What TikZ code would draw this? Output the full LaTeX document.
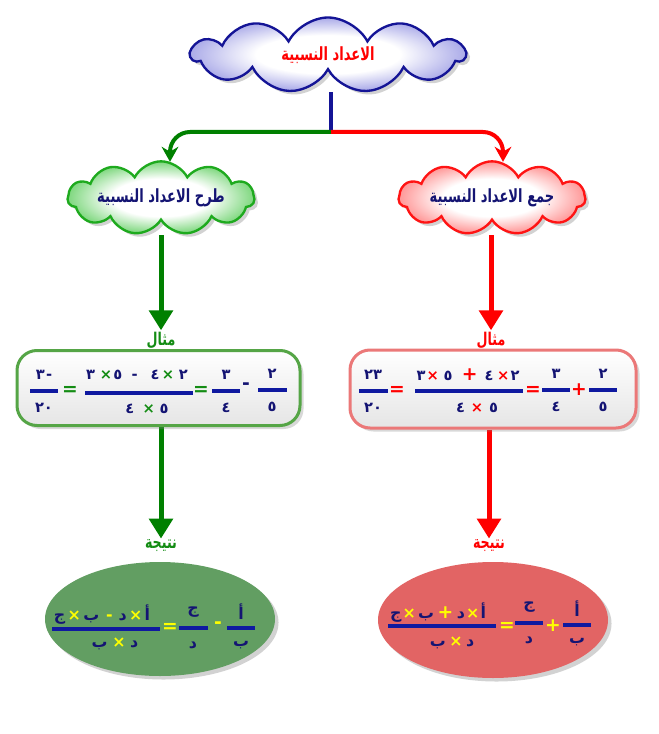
\documentclass[tikz,border=0pt]{standalone}
\usepackage{fontspec}
\newfontfamily\arabicfont[Script=Arabic,FakeStretch=0.72]{DejaVu Sans}
\newfontfamily\digitfont[Script=Arabic]{DejaVu Sans}
\TeXXeTstate=1
\usepackage{tikz}
\usetikzlibrary{shapes.symbols,shapes.geometric,arrows.meta,positioning,shadows,backgrounds}
\usepackage{xcolor}
\definecolor{mynavy}{RGB}{20,20,115}
\definecolor{mybar}{RGB}{15,25,160}
\definecolor{mygreen}{RGB}{20,140,20}
\definecolor{mylinkgreen}{RGB}{0,128,0}
\definecolor{myboxgreen}{RGB}{85,165,70}
\definecolor{myred}{RGB}{255,0,0}
\definecolor{myboxred}{RGB}{235,120,120}
\definecolor{myellgreen}{RGB}{98,158,98}
\definecolor{myellred}{RGB}{226,100,100}
\definecolor{myyellow}{RGB}{255,255,0}
\definecolor{mycloudblue}{RGB}{20,20,150}
\definecolor{mycloudbluepale}{RGB}{170,170,232}
\definecolor{mycloudgreen}{RGB}{30,170,30}
\definecolor{mycloudgreenpale}{RGB}{125,215,125}
\definecolor{mycloudred}{RGB}{255,20,20}
\definecolor{mycloudredpale}{RGB}{255,150,150}
\pgfdeclareradialshading{bluecloud}{\pgfpoint{0bp}{0bp}}{color(0bp)=(white);color(13bp)=(white);color(25bp)=(mycloudbluepale);color(50bp)=(mycloudbluepale)}
\pgfdeclareradialshading{greencloud}{\pgfpoint{0bp}{0bp}}{color(0bp)=(white);color(13bp)=(white);color(25bp)=(mycloudgreenpale);color(50bp)=(mycloudgreenpale)}
\pgfdeclareradialshading{redcloud}{\pgfpoint{0bp}{0bp}}{color(0bp)=(white);color(13bp)=(white);color(25bp)=(mycloudredpale);color(50bp)=(mycloudredpale)}
\newcommand{\gx}{\textcolor{mygreen}{×}}
\newcommand{\rx}{\textcolor{myred}{×}}
\newcommand{\yx}{\textcolor{myyellow}{×}}
\newcommand{\letterfont}{\fontsize{13.5}{15}\selectfont}
% one fraction: name, x, y of the bar, bar length (px), numerator, denominator
\newcommand{\fracnode}[6]{%
  \node[fbar,minimum width=#4*0.03cm] (#1) at (#2,#3) {};
  \node[dig] (#1num) at (#2,#3-16) {#5};
  \node[dig] (#1den) at (#2,#3+17) {#6};
}
\tikzset{
  cloudbox/.style={cloud,cloud puffs=11,cloud puff arc=125,cloud ignores aspect,shade,
    line width=2pt,inner sep=2pt,font=\arabicfont\bfseries\fontsize{15.5}{17}\selectfont,
    drop shadow={shadow xshift=3pt,shadow yshift=-3pt,opacity=0.35}},
  rootcloud/.style={cloudbox,draw=mycloudblue,shading=bluecloud,
    minimum width=8.2cm,minimum height=2.25cm,text=myred},
  subcloud/.style={cloudbox,draw=mycloudgreen,shading=greencloud,
    minimum width=5.6cm,minimum height=2.2cm,text=mynavy},
  addcloud/.style={cloudbox,draw=mycloudred,shading=redcloud,
    minimum width=5.6cm,minimum height=2.2cm,text=mynavy},
  rootline/.style={draw=mycloudblue,line width=0.12cm,shorten <=0.62cm},
  glink/.style={draw=mylinkgreen,line width=0.12cm,rounded corners=0.6cm,
    -{Stealth[length=0.45cm,width=0.5cm]}},
  rlink/.style={draw=myred,line width=0.12cm,rounded corners=0.6cm,
    -{Stealth[length=0.45cm,width=0.5cm]}},
  gdown/.style={draw=mylinkgreen,line width=0.15cm,-{Triangle[length=0.6cm,width=0.7cm]}},
  rdown/.style={draw=myred,line width=0.15cm,-{Triangle[length=0.6cm,width=0.7cm]}},
  glabel/.style={font=\arabicfont\bfseries\fontsize{15}{17}\selectfont,text=mygreen,inner sep=1pt},
  rlabel/.style={font=\arabicfont\bfseries\fontsize{15}{17}\selectfont,text=myred,inner sep=1pt},
  exbox/.style={rectangle,rounded corners=0.6cm,line width=0.09cm,top color=white,bottom color=gray!20,
    drop shadow={shadow xshift=3pt,shadow yshift=-3pt,opacity=0.3}},
  gbox/.style={exbox,draw=myboxgreen,minimum width=283*0.03cm,minimum height=75*0.03cm},
  rbox/.style={exbox,draw=myboxred,minimum width=286*0.03cm,minimum height=78*0.03cm},
  resell/.style={ellipse,inner sep=0pt,drop shadow={shadow xshift=3pt,shadow yshift=-3pt,opacity=0.35}},
  gell/.style={resell,fill=myellgreen,minimum width=230*0.03cm,minimum height=114*0.03cm},
  rell/.style={resell,fill=myellred,minimum width=230*0.03cm,minimum height=116*0.03cm},
  fbar/.style={rectangle,fill=mybar,inner sep=0pt,minimum height=0.13cm},
  dig/.style={font=\digitfont\bfseries\fontsize{12.5}{14}\selectfont,text=mynavy,inner sep=0pt},
  letter/.style={dig,font=\digitfont\bfseries\letterfont},
  opsign/.style={font=\digitfont\bfseries\fontsize{16}{16}\selectfont,inner sep=0pt},
}

\begin{document}
\begin{tikzpicture}[x=0.03cm,y=-0.03cm]
  \begin{scope}[on background layer]
    \fill[white] (0,0) rectangle (658,734);
  \end{scope}
  \useasboundingbox (0,0) rectangle (658,734);

  % title and the two branches
  \node[rootcloud] (root) at (328,55) {\beginR الاعداد النسبية\endR};
  \coordinate (split) at (331,132);
  \node[subcloud] (sub) at (161,198) {\beginR طرح الاعداد النسبية\endR};
  \node[addcloud] (add) at (492,198) {\beginR جمع الاعداد النسبية\endR};

  % examples
  \node[glabel] (gex) at (161,340) {مثال};
  \node[rlabel] (rex) at (491,340) {مثال};

  \node[gbox] (gexbox) at (158.5,388) {};
  \node[rbox] (rexbox) at (493,389) {};

  \fracnode{ga}{272}{390}{29}{٢}{٥}
  \node[opsign,text=mynavy] (gm1) at (246,386) {-};
  \fracnode{gb}{226}{391}{28}{٣}{٤}
  \node[opsign,text=mygreen] (ge1) at (201,391) {=};
  \node[fbar,minimum width=108*0.03cm] (gc) at (139,393) {};
  \node[dig] (gcnum) at (137,375) {٣\hspace{4pt}\gx\hspace{1pt}٥\hspace{8pt}-\hspace{11pt}٤\hspace{2pt}\gx\hspace{4pt}٢};
  \node[dig] (gcden) at (147,409) {٤\hspace{7pt}\gx\hspace{4pt}٥};
  \node[opsign,text=mygreen] (ge2) at (70,391) {=};
  \fracnode{gd}{44}{391}{28}{٣\hspace{1pt}-}{٢٠}

  \fracnode{ra}{603}{390}{28}{٢}{٥}
  \node[opsign,text=myred] (rp1) at (579,390) {+};
  \fracnode{rb}{556}{390}{28}{٣}{٤}
  \node[opsign,text=myred] (re1) at (533,391) {=};
  \node[fbar,minimum width=108*0.03cm] (rc) at (469,391) {};
  \node[dig] (rcnum) at (468,375) {٣\hspace{1pt}\rx\hspace{4pt}٥\hspace{8pt}\textcolor{myred}{\fontsize{16}{16}\selectfont +}\hspace{6pt}٤\hspace{3pt}\rx\hspace{1pt}٢};
  \node[dig] (rcden) at (477,408) {٤\hspace{5pt}\rx\hspace{5pt}٥};
  \node[opsign,text=myred] (re2) at (397,391) {=};
  \fracnode{rd}{373}{391}{29}{٢٣}{٢٠}

  % results
  \node[glabel] (gres) at (161,546) {نتيجة};
  \node[rlabel] (rres) at (489,546) {نتيجة};

  \node[gell] (gresell) at (160,619) {};
  \node[rell] (rresell) at (493,620) {};

  \fracnode{ha}{241}{628}{28}{\letterfont أ}{\letterfont ب}
  \node[opsign,text=myyellow] (hm1) at (218,625) {-};
  \fracnode{hb}{193}{628}{29}{\letterfont ج}{\letterfont د}
  \node[opsign,text=myyellow] (he1) at (170,628) {=};
  \node[fbar,minimum width=108*0.03cm] (hc) at (106,629) {};
  \node[letter] (hcnum) at (102,615) {ج\hspace{2pt}\yx\hspace{2pt}ب\hspace{6pt}\textcolor{myyellow}{-}\hspace{5pt}د\hspace{2pt}\yx\hspace{2pt}أ};
  \node[letter] (hcden) at (115,644) {ب\hspace{4pt}\yx\hspace{4pt}د};

  \fracnode{sa}{577}{625}{28}{\letterfont أ}{\letterfont ب}
  \node[opsign,text=myyellow] (sp1) at (553,626) {+};
  \fracnode{sb}{529}{623}{28}{\letterfont ج}{\letterfont د}
  \node[opsign,text=myyellow] (se1) at (507,627) {=};
  \node[fbar,minimum width=108*0.03cm] (sc) at (442,626) {};
  \node[letter] (scnum) at (438,613) {ج\hspace{1pt}\yx\hspace{2pt}ب\hspace{3pt}\textcolor{myyellow}{\fontsize{16}{16}\selectfont +}\hspace{3pt}د\hspace{1pt}\yx\hspace{1pt}أ};
  \node[letter] (scden) at (452,643) {ب\hspace{3pt}\yx\hspace{3pt}د};

  % connectors, kept under the shapes
  \begin{scope}[on background layer]
    \draw[rootline] (root.south -| split) -- (split);
    \draw[glink] (split) -| ([xshift=0.27cm,yshift=-0.05cm]sub.north);
    \draw[rlink] (split) -| ([xshift=0.33cm,yshift=-0.05cm]add.north);
    \draw[gdown,shorten <=0.4cm] (sub.south -| gex) -- (gex.north);
    \draw[rdown,shorten <=0.4cm] (add.south -| rex) -- (rex.north);
    \draw[gdown] (gexbox.south -| gres) -- (gres.north);
    \draw[rdown] (rexbox.south -| rres) -- (rres.north);
  \end{scope}
\end{tikzpicture}
\end{document}
